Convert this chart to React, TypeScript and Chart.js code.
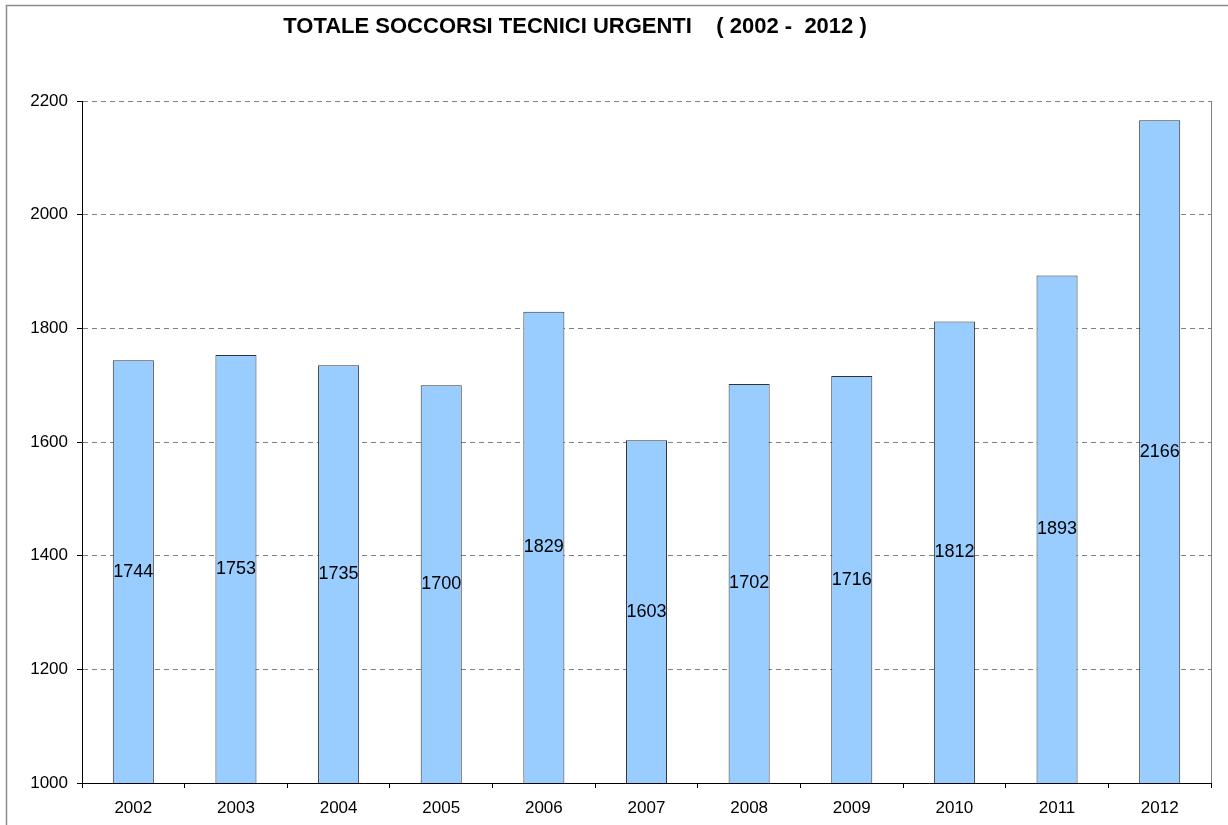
import React, { useEffect, useRef } from "react";
import { Chart, registerables } from "chart.js";

Chart.register(...registerables);

const TITLE = "TOTALE SOCCORSI TECNICI URGENTI    ( 2002 -  2012 )";
const years = ["2002", "2003", "2004", "2005", "2006", "2007", "2008", "2009", "2010", "2011", "2012"];
const totals = [1744, 1753, 1735, 1700, 1829, 1603, 1702, 1716, 1812, 1893, 2166];
const yMin = 1000;
const yMax = 2200;
const yStep = 200;

const FONT = "'Liberation Sans', Arial, sans-serif";

export default function App() {
  const ref = useRef<HTMLCanvasElement | null>(null);

  useEffect(() => {
    document.body.style.margin = "0";
    const canvas = ref.current;
    if (!canvas) return;

    const framePlugin = {
      id: "frame",
      beforeDraw(chart: any) {
        const ctx = chart.ctx;
        ctx.save();
        ctx.fillStyle = "#ffffff";
        ctx.fillRect(0, 0, chart.width, chart.height);
        ctx.strokeStyle = "#8c8c8c";
        ctx.lineWidth = 1.5;
        ctx.strokeRect(6.5, 5.5, 1400, 1000);
        ctx.restore();
      },
      afterDraw(chart: any) {
        const ctx = chart.ctx;
        const a = chart.chartArea;
        const xs = chart.scales.x;
        const ys = chart.scales.y;
        ctx.save();
        // right plot border
        ctx.strokeStyle = "#808080";
        ctx.lineWidth = 1;
        ctx.beginPath();
        ctx.moveTo(Math.round(a.right) + 0.5, a.top);
        ctx.lineTo(Math.round(a.right) + 0.5, a.bottom);
        ctx.stroke();
        // title
        ctx.fillStyle = "#000000";
        ctx.font = `bold 22px ${FONT}`;
        ctx.textAlign = "center";
        ctx.textBaseline = "middle";
        ctx.fillText(TITLE, 575, 27);
        // bar value labels at the middle of each bar
        ctx.font = `18px ${FONT}`;
        totals.forEach((v, i) => {
          const x = xs.getPixelForValue(i);
          const y = ys.getPixelForValue((v + yMin) / 2);
          ctx.fillText(String(v), x, y);
        });
        ctx.restore();
      },
    };

    const chart = new Chart(canvas, {
      type: "bar",
      data: {
        labels: years,
        datasets: [
          {
            data: totals,
            backgroundColor: "#99CCFF",
            borderColor: "#333333",
            borderWidth: 1,
            categoryPercentage: 1,
            barPercentage: 0.4,
          },
        ],
      },
      options: {
        responsive: false,
        animation: false,
        layout: { padding: { top: 101, right: 17, bottom: 0, left: 0 } },
        plugins: {
          legend: { display: false },
          title: { display: false },
          tooltip: { enabled: false },
        },
        scales: {
          x: {
            afterFit(scale: any) {
              scale.height = 42;
            },
            grid: {
              offset: true,
              drawOnChartArea: false,
              drawTicks: true,
              tickLength: 5,
              color: "#000000",
            },
            border: { color: "#000000", width: 1 },
            ticks: {
              color: "#000000",
              font: { family: FONT, size: 17 },
              padding: 10,
              maxRotation: 0,
            },
          },
          y: {
            min: yMin,
            max: yMax,
            afterFit(scale: any) {
              scale.width = 82;
            },
            grid: {
              color: "#808080",
              lineWidth: 1,
              tickLength: 5,
              tickColor: "#000000",
              drawTicks: true,
            },
            border: { color: "#000000", width: 1, dash: [5, 4] },
            ticks: {
              stepSize: yStep,
              color: "#000000",
              font: { family: FONT, size: 17 },
              padding: 9,
              callback: (v: any) => String(v),
            },
          },
        },
      },
      plugins: [framePlugin],
    });

    return () => chart.destroy();
  }, []);

  return <canvas ref={ref} width={1228} height={825} style={{ display: "block" }} />;
}
